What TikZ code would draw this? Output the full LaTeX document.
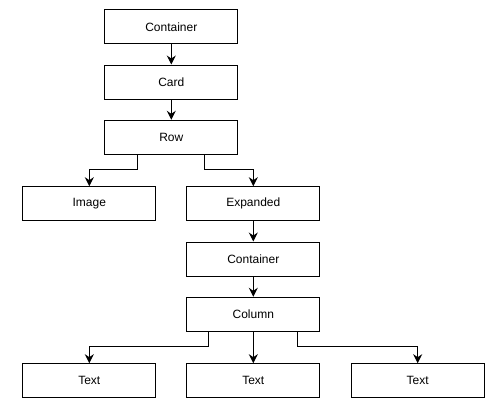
\documentclass[tikz,border=0pt]{standalone}
\usepackage{fontspec}
\setmainfont{Liberation Sans}
\usetikzlibrary{arrows.meta}

\begin{document}
\begin{tikzpicture}[x=1pt, y=-1pt,
		widget/.style={draw, line width=1pt, minimum width=133pt, minimum height=34pt, inner sep=0pt, font=\fontsize{12}{14}\selectfont},
		link/.style={line width=1pt, -{Stealth[length=9pt, width=9pt, inset=3pt]}}]
			\useasboundingbox (0,0) rectangle (493,410);
			\node[widget] (container) at (171.3, 26.8) {Container};
			\node[widget] (card)      at (171.3, 82.0) {Card};
			\node[widget] (row)       at (171.3,137.3) {Row};
			\node[widget] (image)     at ( 89.3,203.7) {Image};
			\node[widget] (expanded)  at (253.3,203.7) {Expanded};
			\node[widget] (inner)     at (253.3,259.0) {Container};
			\node[widget] (column)    at (253.3,314.3) {Column};
			\node[widget] (textA)     at ( 89.3,380.7) {Text};
			\node[widget] (textB)     at (253.3,380.7) {Text};
			\node[widget] (textC)     at (417.7,380.7) {Text};
			\draw[link] (container) -- (card);
			\draw[link] (card) -- (row);
			\draw[link] ([xshift=-34pt]row.south) -- ++(0,15) -| (image.north);
			\draw[link] ([xshift=33pt]row.south) -- ++(0,15) -| (expanded.north);
			\draw[link] (expanded) -- (inner);
			\draw[link] (inner) -- (column);
			\draw[link] ([xshift=-44.6pt]column.south) -- ++(0,15) -| (textA.north);
			\draw[link] (column) -- (textB);
			\draw[link] ([xshift=43.7pt]column.south) -- ++(0,15) -| (textC.north);
		\end{tikzpicture}
\end{document}
